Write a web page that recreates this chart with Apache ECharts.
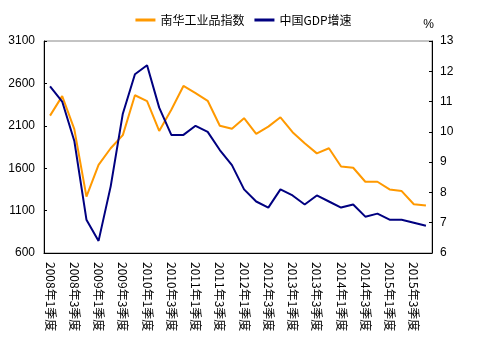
<!DOCTYPE html>
<html>
<head>
<meta charset="utf-8">
<script src="https://cdn.jsdelivr.net/npm/echarts@6/dist/echarts.min.js"></script>
<style>
  html, body { margin: 0; padding: 0; background: #fff; }
  #chart { width: 487px; height: 353px; }
</style>
</head>
<body>
<div id="chart"></div>
<script>
// quarters 2008Q1 .. 2015Q4
let quarters = [];
for (let y = 2008; y <= 2015; y++) {
    for (let q = 1; q <= 4; q++) {
        quarters.push(y + '年' + q + '季度');
    }
}

// 南华工业品指数 (left axis)
let nanhuaIndex = [
    2220, 2450, 2060, 1265, 1640, 1835, 1990, 2460,
    2390, 2040, 2290, 2570, 2485, 2395, 2100, 2065,
    2190, 2005, 2090, 2200, 2025, 1895, 1775, 1835,
    1620, 1605, 1440, 1440, 1350, 1330, 1175, 1160
];

// 中国GDP增速, % (right axis)
let gdpGrowth = [
    11.5, 11.0, 9.7, 7.1, 6.4, 8.2, 10.6, 11.9,
    12.2, 10.8, 9.9, 9.9, 10.2, 10.0, 9.4, 8.9,
    8.1, 7.7, 7.5, 8.1, 7.9, 7.6, 7.9, 7.7,
    7.5, 7.6, 7.2, 7.3, 7.1, 7.1, 7.0, 6.9
];

let leftTicks = [600, 1100, 1600, 2100, 2600, 3100];

let labelFont = 'Liberation Sans, Arial, sans-serif';
let cjkFont = '"Noto Sans CJK SC", sans-serif';

let chart = echarts.init(document.getElementById('chart'));

let option = {
    animation: false,
    backgroundColor: '#fff',
    legend: {
        top: 9,
        left: 'center',
        icon: 'rect',
        itemWidth: 20,
        itemHeight: 3,
        itemGap: 10,
        textStyle: {
            fontFamily: cjkFont,
            fontSize: 12,
            color: '#000'
        },
        data: ['南华工业品指数', '中国GDP增速']
    },
    grid: {
        left: 44,
        right: 55,
        top: 41,
        bottom: 100,
        show: true,
        borderColor: '#888',
        borderWidth: 1
    },
    xAxis: {
        type: 'category',
        data: quarters,
        boundaryGap: true,
        axisLine: { lineStyle: { color: '#000', width: 1 } },
        axisTick: { inside: true, length: 4, lineStyle: { color: '#000' } },
        axisLabel: {
            interval: 1,
            rotate: -90,
            margin: 9,
            fontFamily: cjkFont,
            fontSize: 12,
            color: '#000'
        },
        splitLine: { show: false }
    },
    yAxis: [
        {
            type: 'value',
            min: 600,
            max: 3100,
            axisLine: { show: true, lineStyle: { color: '#000' } },
            axisTick: { show: true, inside: true, length: 3, customValues: leftTicks },
            axisLabel: {
                customValues: leftTicks,
                formatter: function (value) {
                    return String(value);
                },
                margin: 9,
                fontFamily: labelFont,
                fontSize: 12,
                color: '#000'
            },
            splitLine: { show: false }
        },
        {
            type: 'value',
            name: '%',
            nameLocation: 'end',
            nameGap: 10,
            nameTextStyle: {
                fontFamily: labelFont,
                fontSize: 12,
                color: '#000',
                align: 'right',
                padding: [0, -2, 0, 0]
            },
            min: 6,
            max: 13,
            interval: 1,
            axisLine: { show: true, lineStyle: { color: '#000' } },
            axisTick: { show: true, inside: true, length: 3 },
            axisLabel: {
                margin: 8,
                fontFamily: labelFont,
                fontSize: 12,
                color: '#000'
            },
            splitLine: { show: false }
        }
    ],
    series: [
        {
            name: '南华工业品指数',
            type: 'line',
            yAxisIndex: 0,
            data: nanhuaIndex,
            color: '#ff9900',
            showSymbol: false,
            lineStyle: { width: 2 },
            z: 2
        },
        {
            name: '中国GDP增速',
            type: 'line',
            yAxisIndex: 1,
            data: gdpGrowth,
            color: '#000080',
            showSymbol: false,
            lineStyle: { width: 2 },
            z: 3
        }
    ]
};
chart.setOption(option);
</script>
</body>
</html>
